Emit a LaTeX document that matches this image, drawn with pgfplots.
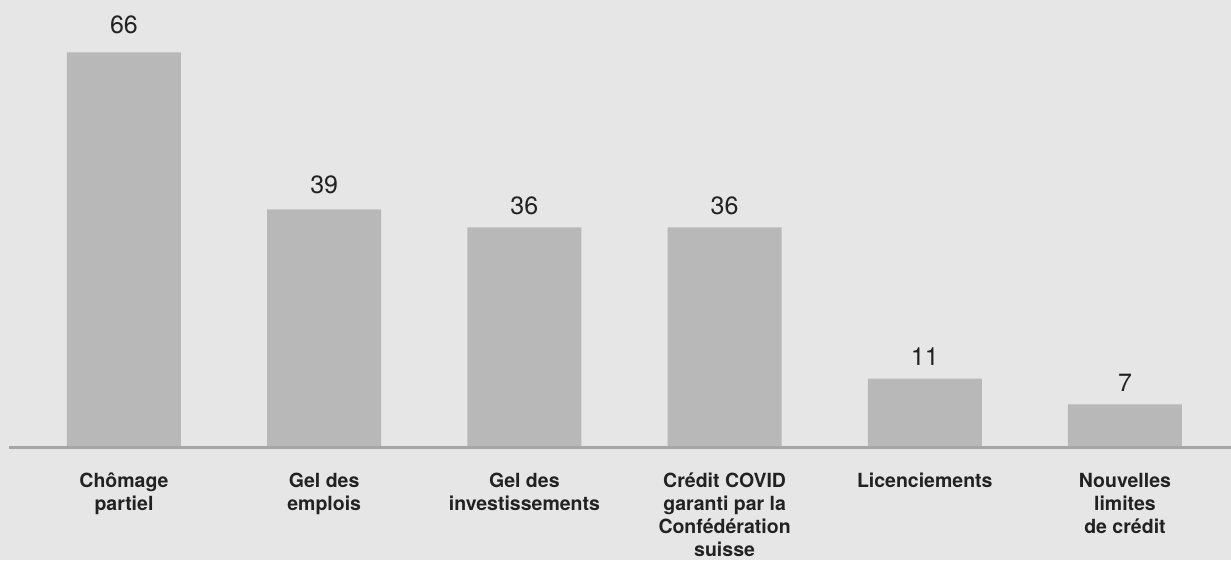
\documentclass[border=0pt]{standalone}
\usepackage{fontspec}
\setmainfont{TeX Gyre Heros}
\usepackage{pgfplots}
\usepackage{pgfplotstable}
\pgfplotsset{compat=1.18}
\definecolor{bg}{HTML}{E6E6E6}
\definecolor{barc}{HTML}{B8B8B8}
\definecolor{axisline}{HTML}{A6A6A6}
\definecolor{txt}{HTML}{222222}
\pgfplotstableread{
x y lab dy
0 66 66 19
1 39.8 39 16
2 36.8 36 13
3 36.8 36 13
4 11.5 11 13
5 7.2 7 13
}\data
\newcommand{\fs}{\rule{0pt}{17pt}}
\begin{document}
\begin{tikzpicture}
\fill[bg] (0,0) rectangle (1231pt,560pt);
\useasboundingbox (0,0) rectangle (1231pt,560pt);
\begin{axis}[
 at={(9pt,112.5pt)}, anchor=south west, scale only axis, width=1222pt, height=447.5pt,
 xmin=-0.5744, xmax=5.5295, ymin=0, ymax=74.77,
 axis x line*=bottom, axis y line=none, axis on top,
 axis line style={-, draw=axisline, line width=3pt},
 xtick=data,
 xticklabels={{\fs Chômage\\partiel},{\fs Gel des\\emplois},{\fs Gel des\\investissements},{\fs Crédit COVID\\garanti par la\\Confédération\\suisse},{\fs Licenciements},{\fs Nouvelles\\limites\\de crédit}},
 major tick length=0pt,
 xticklabel style={font=\bfseries\fontsize{19.5}{23}\selectfont, text=txt, align=center, anchor=north, inner sep=0pt, yshift=-22.5pt},
 ybar, bar width=114pt,
 nodes near coords, point meta=explicit symbolic,
 visualization depends on={\thisrow{dy} \as \dy},
 nodes near coords style={font=\fontsize{25}{30}\selectfont, text=txt, anchor=base, inner sep=0pt, yshift=\dy pt},
]
\addplot[fill=barc, draw=none] table[x=x, y=y, meta=lab] {\data};
\end{axis}
\end{tikzpicture}
\end{document}
